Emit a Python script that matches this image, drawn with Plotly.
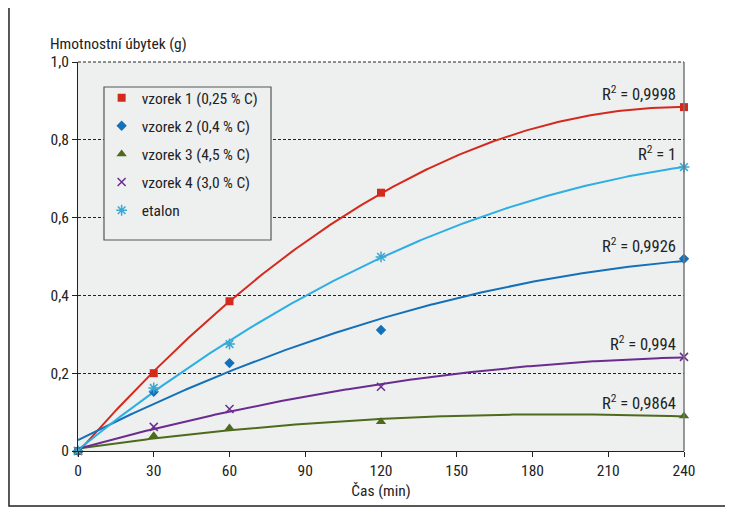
import numpy as np
import plotly.graph_objects as go

# ---- data ----
time_min = [0, 30, 60, 120, 240]
series_names = ["vzorek 1 (0,25 % C)", "vzorek 2 (0,4 % C)", "vzorek 3 (4,5 % C)",
                "vzorek 4 (3,0 % C)", "etalon"]
vzorek1 = [0, 0.200, 0.385, 0.664, 0.884]
vzorek2 = [0, 0.152, 0.226, 0.311, 0.494]
vzorek3 = [0, 0.039, 0.059, 0.075, 0.090]
vzorek4 = [0, 0.062, 0.108, 0.165, 0.242]
etalon = [0, 0.162, 0.275, 0.499, 0.730]
trend_degree = [2, 2, 2, 2, 3]
r2_labels = ["0,9998", "0,9926", "0,9864", "0,994", "1"]
y_tickvals = [0, 0.2, 0.4, 0.6, 0.8, 1.0]
y_ticktext = ["0", "0,2", "0,4", "0,6", "0,8", "1,0"]
x_tickvals = [0, 30, 60, 90, 120, 150, 180, 210, 240]

values = [vzorek1, vzorek2, vzorek3, vzorek4, etalon]
colors = ["#d42a1e", "#1470b8", "#4e6a1c", "#6a2d8f", "#2eaee3"]
marker_colors = ["#d42a1e", "#1470b8", "#4e6a1c", "#6a2d8f", "#3aa8d0"]
symbols = ["square", "diamond", "triangle-up", "x-thin", "asterisk"]
sizes = [8, 8, 9, 8, 9]

FONT = "Liberation Sans Narrow, Roboto Condensed, Arial Narrow, Liberation Sans, sans-serif"

fig = go.Figure()

xs = np.linspace(0, 240, 241)
for i, (name, ys) in enumerate(zip(series_names, values)):
    coef = np.polyfit(time_min, ys, trend_degree[i])
    fig.add_trace(go.Scatter(x=xs, y=np.polyval(coef, xs), mode="lines",
                             line=dict(color=colors[i], width=2), showlegend=False,
                             hoverinfo="skip", cliponaxis=False))

for i, (name, ys) in enumerate(zip(series_names, values)):
    lw = 1.5 if symbols[i] in ("x-thin", "asterisk") else 0
    fig.add_trace(go.Scatter(x=time_min, y=ys, mode="markers", name=name,
                             legendgroup=f"g{i}",
                             marker=dict(symbol=symbols[i], size=sizes[i], color=marker_colors[i],
                                         line=dict(color=marker_colors[i], width=lw)),
                             cliponaxis=False))

# R² labels
for i, ys in enumerate(values):
    fig.add_annotation(x=240, y=ys[-1], xref="x", yref="y", text=f"R<sup>2</sup> = {r2_labels[i]}",
                       showarrow=False, xanchor="right", yanchor="bottom", xshift=-6, yshift=1,
                       font=dict(family=FONT, size=16.5, color="#222"))

# y title
fig.add_annotation(x=-0.05, y=1.046, xref="paper", yref="paper", text="Hmotnostní úbytek (g)",
                   showarrow=False, xanchor="left", yanchor="middle",
                   font=dict(family=FONT, size=15.5, color="#222"))

# outer frame
fig.add_shape(type="rect", xref="paper", yref="paper", x0=-0.1139, x1=1.069, y0=-0.1414, y1=1.1414,
              line=dict(color="#222", width=1.5), fillcolor="rgba(0,0,0,0)", layer="below")
# top dashed line at 1.0
fig.add_shape(type="line", xref="paper", yref="paper", x0=0, x1=1, y0=1, y1=1,
              line=dict(color="#222", width=1, dash="3px,2px"))
# legend box
fig.add_shape(type="rect", xref="paper", yref="paper", x0=0.0429, x1=0.3185, y0=0.5424, y1=0.9357,
              line=dict(color="#555", width=1.2), fillcolor="#eef0f0", layer="above")
# right plot border
fig.add_shape(type="line", xref="paper", yref="paper", x0=1, x1=1, y0=0, y1=1,
              line=dict(color="#777", width=1.5))

fig.update_layout(
    width=733, height=515,
    margin=dict(l=70, r=57, t=54, b=72),
    paper_bgcolor="white", plot_bgcolor="#eef0f0",
    font=dict(family=FONT, size=15.5, color="#222"),
    showlegend=True,
    legend=dict(x=0.039, y=0.951, xanchor="left", yanchor="top", bgcolor="rgba(0,0,0,0)",
                borderwidth=0, font=dict(family=FONT, size=15.5, color="#222"),
                tracegroupgap=5, itemwidth=30),
    xaxis=dict(range=[0, 240], tickvals=x_tickvals, showgrid=False, zeroline=False,
               showline=True, linecolor="#222", linewidth=1, ticks="outside", ticklen=5,
               tickcolor="#222", title=dict(text="Čas (min)", font=dict(size=15.5), standoff=6)),
    yaxis=dict(range=[0, 1], tickvals=y_tickvals, ticktext=y_ticktext, showgrid=True,
               gridcolor="#222", griddash="3px,2px", gridwidth=1, zeroline=False,
               showline=True, linecolor="#222", linewidth=1, ticks="outside", ticklen=5,
               tickcolor="#222"),
)

fig.write_html("out.html")
